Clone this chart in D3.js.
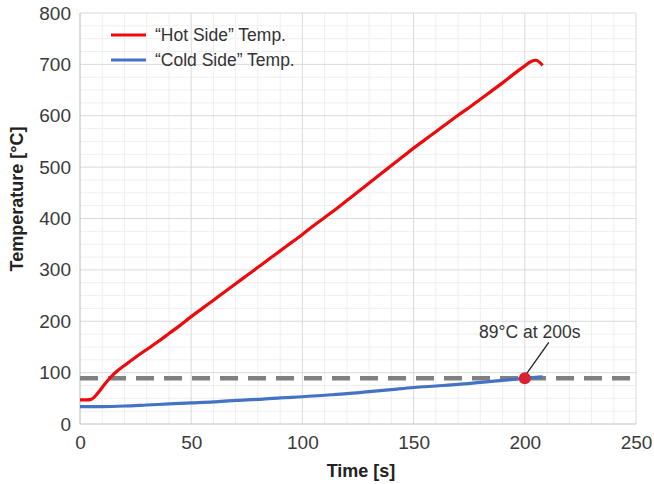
<!DOCTYPE html>
<html>
<head>
<meta charset="utf-8">
<script src="https://cdn.jsdelivr.net/npm/d3@7"></script>
<style>
  html, body { margin: 0; padding: 0; background: #fff; }
  svg text { font-family: "Liberation Sans", Arial, sans-serif; }
</style>
</head>
<body>
<div id="chart"></div>
<script>
// data
const hotTime = [0, 3, 5, 8, 11, 14, 17, 20, 25, 30, 35, 40, 45, 50, 55, 60, 65, 70, 75, 80, 85, 90, 95, 100,
  105, 110, 115, 120, 125, 130, 135, 140, 145, 150, 155, 160, 165, 170, 175, 180, 185, 190, 195, 200, 203, 205, 208];
const hotTemp = [47, 47, 48, 60, 77, 92, 104, 114, 130, 145, 160, 176, 192, 209, 225, 241, 257, 273, 289, 305, 321, 337, 353, 369,
  386, 402, 418, 435, 452, 469, 486, 503, 520, 537, 553, 569, 585, 601, 616, 632, 648, 664, 681, 697, 706, 708, 698];
const coldTime = [0, 10, 20, 30, 40, 50, 60, 70, 80, 90, 100, 110, 120, 130, 140, 150, 160, 170, 180, 190, 200, 208];
const coldTemp = [34, 34, 35, 37, 39, 41, 43, 46, 48, 51, 53, 56, 59, 63, 67, 71, 74, 77, 81, 85, 89, 92];
const xTicks = [0, 50, 100, 150, 200, 250];
const yTicks = [0, 100, 200, 300, 400, 500, 600, 700, 800];
const seriesNames = ['\u201cHot Side\u201d Temp.', '\u201cCold Side\u201d Temp.'];
const limitTemp = 89;
const markTime = 200;
const markLabel = '89\u00b0C at 200s';

const W = 654, H = 484;
const margin = { top: 13, right: 18, bottom: 60, left: 80 };
const width = W - margin.left - margin.right;
const height = H - margin.top - margin.bottom;

const svg = d3.select('#chart').append('svg')
  .attr('width', W).attr('height', H);
const g = svg.append('g').attr('transform', `translate(${margin.left},${margin.top})`);

const x = d3.scaleLinear().domain([0, 250]).range([0, width]);
const y = d3.scaleLinear().domain([0, 800]).range([height, 0]);

// minor grid
g.append('g').selectAll('line').data(d3.range(0, 251, 10).filter(d => d % 50))
  .enter().append('line')
  .attr('x1', d => x(d)).attr('x2', d => x(d)).attr('y1', 0).attr('y2', height)
  .attr('stroke', '#efefef').attr('stroke-width', 1);
g.append('g').selectAll('line').data(d3.range(0, 801, 25).filter(d => d % 100))
  .enter().append('line')
  .attr('y1', d => y(d)).attr('y2', d => y(d)).attr('x1', 0).attr('x2', width)
  .attr('stroke', '#efefef').attr('stroke-width', 1);
// major grid
g.append('g').selectAll('line').data(xTicks.slice(1))
  .enter().append('line')
  .attr('x1', d => x(d)).attr('x2', d => x(d)).attr('y1', 0).attr('y2', height)
  .attr('stroke', '#dadada').attr('stroke-width', 1);
g.append('g').selectAll('line').data(yTicks.slice(1))
  .enter().append('line')
  .attr('y1', d => y(d)).attr('y2', d => y(d)).attr('x1', 0).attr('x2', width)
  .attr('stroke', '#dadada').attr('stroke-width', 1);

// axis lines
g.append('line').attr('x1', 0).attr('x2', 0).attr('y1', 0).attr('y2', height)
  .attr('stroke', '#c4c4c4').attr('stroke-width', 1.2);
g.append('line').attr('x1', 0).attr('x2', width).attr('y1', height).attr('y2', height)
  .attr('stroke', '#c4c4c4').attr('stroke-width', 1.2);

// tick labels
const xAxis = g.append('g').attr('transform', `translate(0,${height})`)
  .call(d3.axisBottom(x).tickValues(xTicks).tickSize(0).tickPadding(12));
const yAxis = g.append('g')
  .call(d3.axisLeft(y).tickValues(yTicks).tickSize(0).tickPadding(9));
[xAxis, yAxis].forEach(a => {
  a.select('.domain').remove();
  a.selectAll('text')
    .style('font-family', '"Liberation Sans", Arial, sans-serif')
    .style('font-size', '19px').style('fill', '#3a3a3a');
});

// threshold line
g.append('line')
  .attr('x1', 0).attr('x2', width)
  .attr('y1', y(limitTemp)).attr('y2', y(limitTemp))
  .attr('stroke', '#808080').attr('stroke-width', 4.5)
  .attr('stroke-dasharray', '18,10');

const line = d3.line().x(d => x(d[0])).y(d => y(d[1])).curve(d3.curveMonotoneX);

g.append('path')
  .datum(coldTime.map((t, i) => [t, coldTemp[i]]))
  .attr('fill', 'none').attr('stroke', '#4472c4').attr('stroke-width', 3.2)
  .attr('d', line);

g.append('path')
  .datum(hotTime.map((t, i) => [t, hotTemp[i]]))
  .attr('fill', 'none').attr('stroke', '#ee0a0a').attr('stroke-width', 3.2)
  .attr('stroke-linejoin', 'round')
  .attr('d', line);

// annotation
const mx = x(markTime), my = y(limitTemp);
g.append('line')
  .attr('x1', mx + 2).attr('y1', my - 5)
  .attr('x2', mx + 24).attr('y2', my - 36)
  .attr('stroke', '#222').attr('stroke-width', 1.3);
g.append('circle').attr('cx', mx).attr('cy', my).attr('r', 6)
  .attr('fill', '#d9232e');
g.append('text')
  .attr('x', mx + 5).attr('y', my - 45)
  .attr('text-anchor', 'middle').attr('dominant-baseline', 'middle')
  .style('font-size', '17.5px').style('fill', '#333')
  .text(markLabel);

// legend
const legend = g.append('g').attr('transform', 'translate(31,22)');
const legendColors = ['#ee0a0a', '#4472c4'];
seriesNames.forEach((name, i) => {
  legend.append('line')
    .attr('x1', 0).attr('x2', 35).attr('y1', i * 25).attr('y2', i * 25)
    .attr('stroke', legendColors[i]).attr('stroke-width', 3.2);
  legend.append('text')
    .attr('x', 44).attr('y', i * 25 + 1)
    .attr('dominant-baseline', 'middle')
    .style('font-size', '17.5px').style('fill', '#333')
    .text(name);
});

// axis titles
svg.append('text')
  .attr('x', 361).attr('y', 472)
  .attr('text-anchor', 'middle').attr('dominant-baseline', 'middle')
  .style('font-size', '18px').style('font-weight', 'bold').style('fill', '#222')
  .text('Time [s]');
svg.append('text')
  .attr('transform', 'translate(18,199) rotate(-90)')
  .attr('text-anchor', 'middle').attr('dominant-baseline', 'middle')
  .style('font-size', '18px').style('font-weight', 'bold').style('fill', '#222')
  .text('Temperature [\u00b0C]');
</script>
</body>
</html>
